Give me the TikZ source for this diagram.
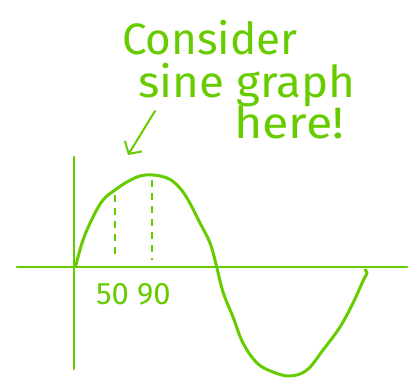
\documentclass[tikz,border=0pt]{standalone}
\usepackage{fontspec}
\setmainfont{Fira Sans}
\usetikzlibrary{arrows.meta}
\definecolor{pen}{RGB}{102,204,0}
\begin{document}
\begin{tikzpicture}[x=1pt,y=-1pt,
  ink/.style={draw=pen,line width=3pt,line cap=round,line join=round},
  thin ink/.style={draw=pen,line width=1.6pt,line cap=round},
  guide/.style={draw=pen,line width=1.3pt,dash pattern=on 7pt off 6pt},
  hand/.style={text=pen,font=\fontsize{44}{46}\selectfont,inner sep=0pt,anchor=base west},
  tick/.style={text=pen,font=\fontsize{31}{33}\selectfont,inner sep=0pt,anchor=base west}]
\useasboundingbox (0,0) rectangle (409,379);
% axes
\coordinate (ytop) at (74,157);
\coordinate (ybot) at (74,369);
\coordinate (xl) at (17,267);
\coordinate (xr) at (407,267);
\draw[thin ink,line width=2.4pt] (ytop) -- (ybot);
\draw[thin ink,line width=2.4pt] (xl) -- (xr);
% sine curve
\draw[ink] plot[smooth,tension=0.6] coordinates {
 (76,265) (83,240) (93,217) (103,200) (115,190) (127,182) (140,176) (153,175)
 (167,178) (177,185) (187,198) (200,223) (210,243) (216,264) (223,292)
 (233,317) (243,343) (257,363) (273,372) (290,376) (307,370) (323,350)
 (340,327) (353,303) (363,281) (367,273) (365,270)};
% dashed guides
\coordinate (d1t) at (115,195); \coordinate (d1b) at (115,260);
\coordinate (d2t) at (152,180); \coordinate (d2b) at (152,260);
\draw[guide] (d1t) -- (d1b);
\draw[guide] (d2t) -- (d2b);
% labels
\node[tick] (l50) at (96,304) {50};
\node[tick] (l90) at (137,304) {90};
% text
\node[hand] (t1) at (122,55) {Consider};
\node[hand,xscale=1.04] (t2) at (138,98) {sine graph};
\node[hand,xscale=1.1] (t3) at (234,139) {here!};
% arrow
\coordinate (as) at (155,111);
\coordinate (ae) at (128,155);
\draw[thin ink,line width=2pt,-{Straight Barb[length=9pt,width=20pt,line width=2pt]}] (as) -- (ae);
\end{tikzpicture}
\end{document}
